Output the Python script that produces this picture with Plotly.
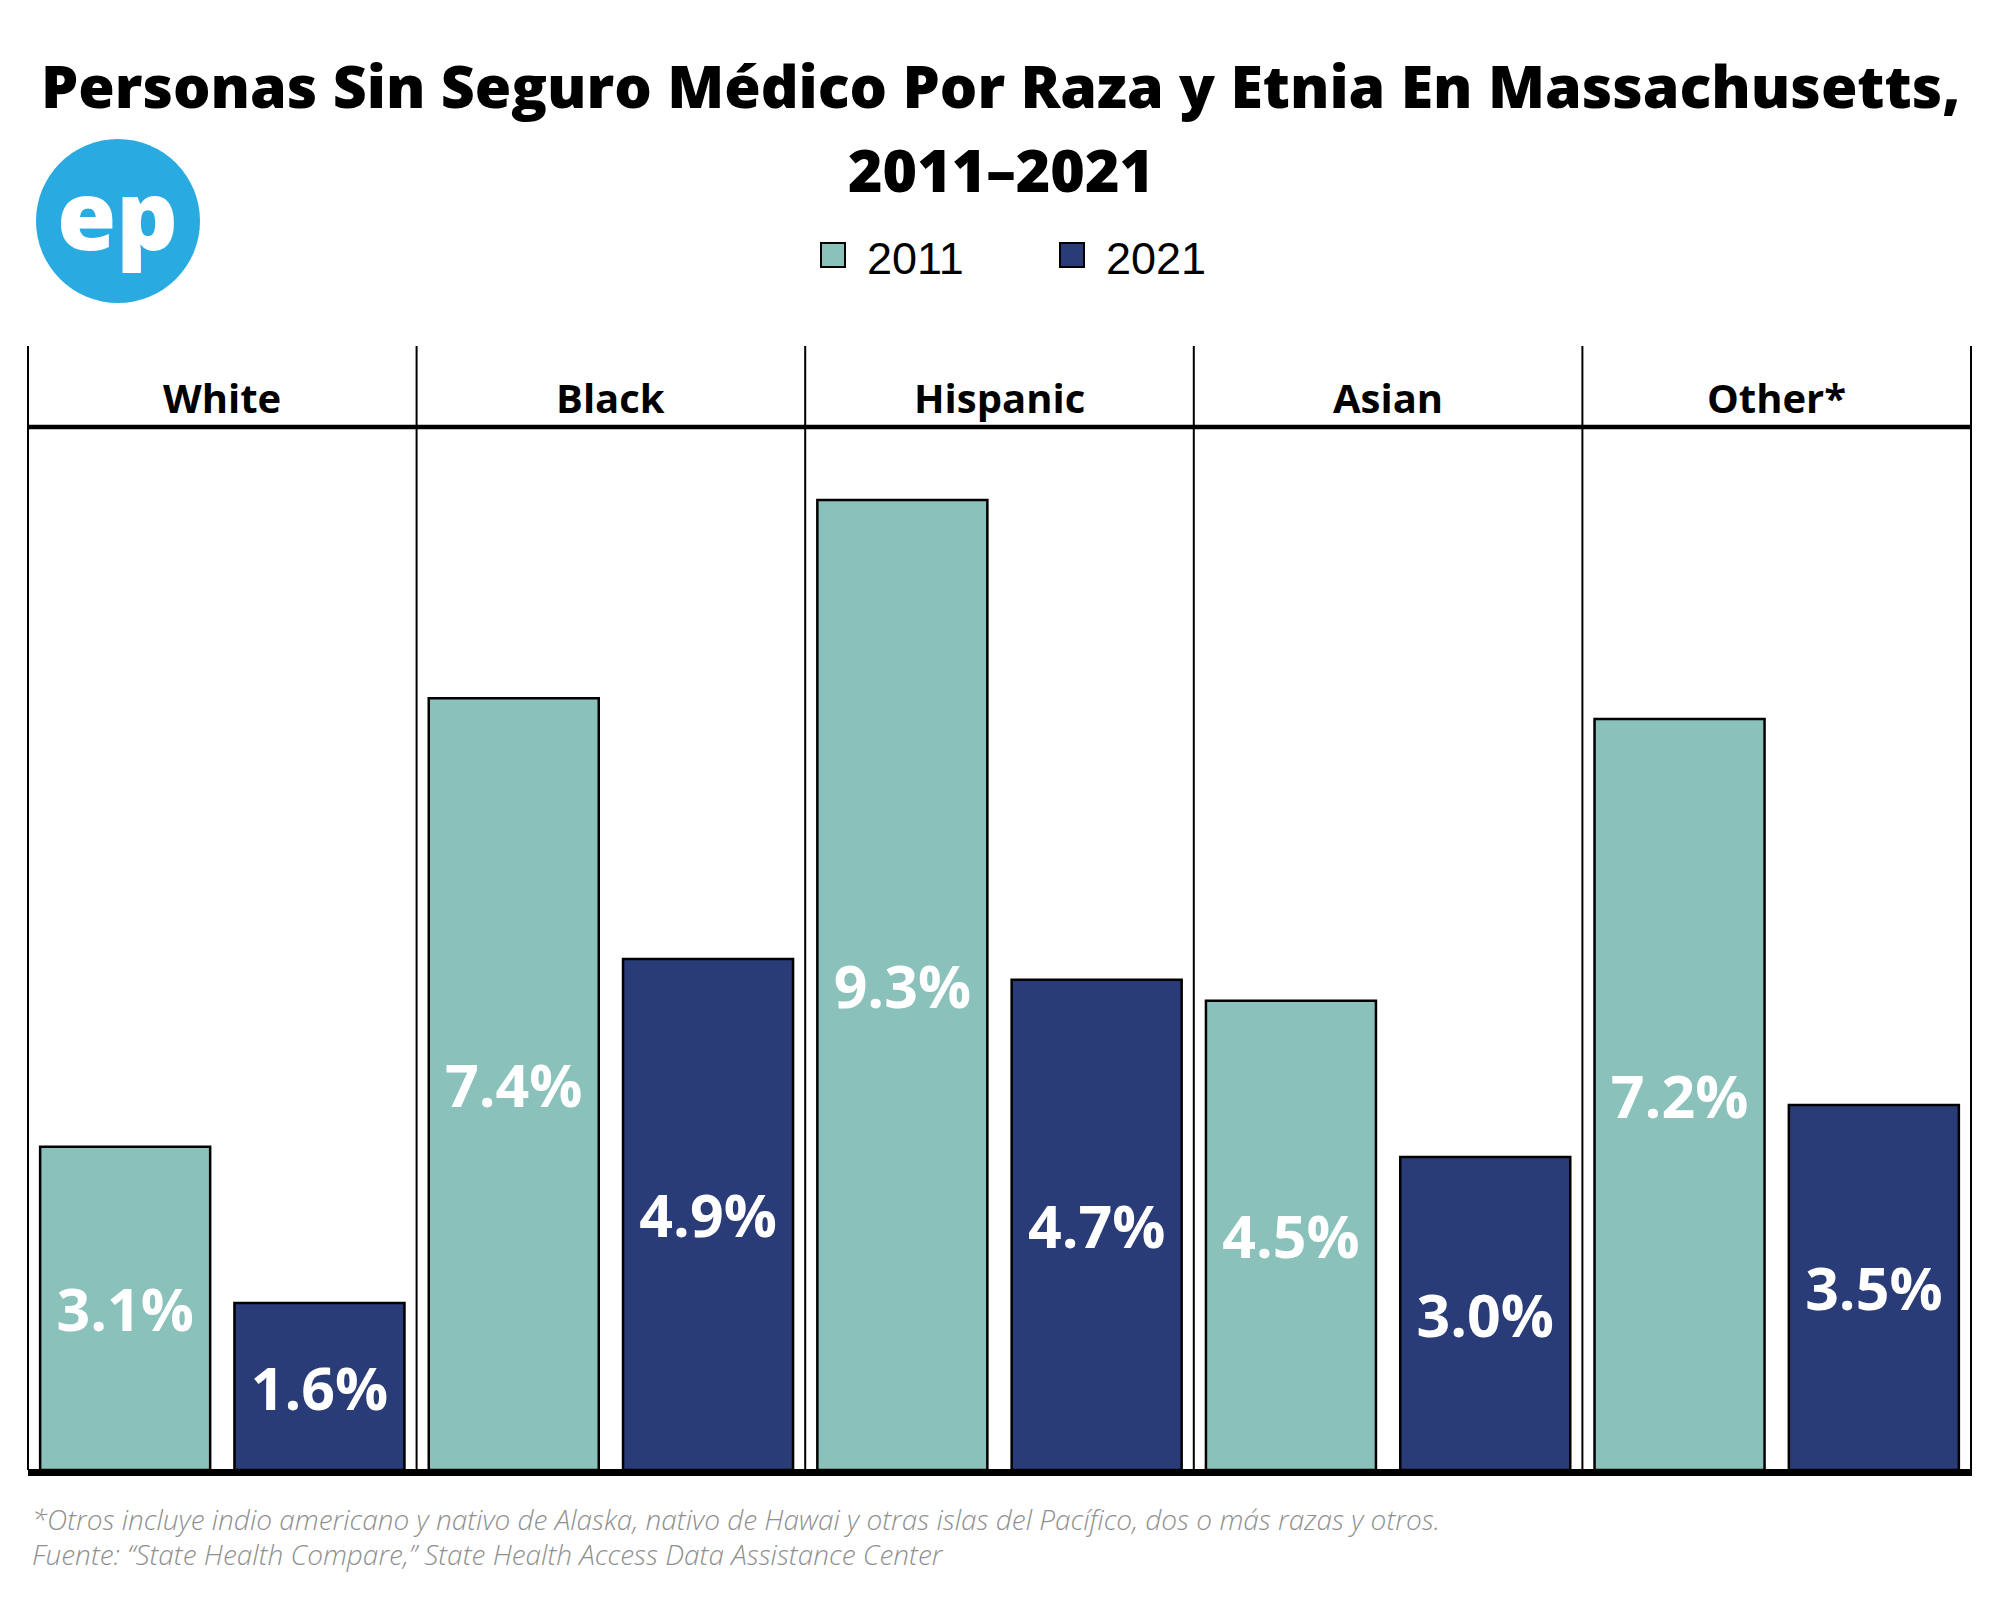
import plotly.graph_objects as go

# ---- data ----
categories = ["White", "Black", "Hispanic", "Asian", "Other*"]
years = ["2011", "2021"]
values_2011 = [3.1, 7.4, 9.3, 4.5, 7.2]
values_2021 = [1.6, 4.9, 4.7, 3.0, 3.5]

title_line1 = "Personas Sin Seguro Médico Por Raza y Etnia En Massachusetts,"
title_line2 = "2011–2021"
footnote1 = "*Otros incluye indio americano y nativo de Alaska, nativo de Hawai y otras islas del Pacífico, dos o más razas y otros."
footnote2 = "Fuente: “State Health Compare,” State Health Access Data Assistance Center"

colors = {"2011": "#8AC2BB", "2021": "#293C77"}

OFF = 8  # page body margin
W, H = 2000, 1600
L = 28 - OFF
T = 346 - OFF
PW = 1943
PH = 1124
R = W - L - PW
B = H - T - PH
Y0PIX = 1470  # screen row of y=0
UNIT = 104.3   # pixels per percentage point
YMAX = PH / UNIT


def px(x):
    return (x - OFF - L) / PW


def py(y):
    return (Y0PIX - y) / PH


fig = go.Figure()
for yr, vals in zip(years, [values_2011, values_2021]):
    fig.add_trace(go.Bar(
        x=categories, y=vals, name=yr,
        marker=dict(color=colors[yr], line=dict(color="black", width=2.5)),
        texttemplate="%{y:.1f}%", textposition="inside", insidetextanchor="middle",
        textangle=0, constraintext="none",
        textfont=dict(family="Open Sans", size=59, color="white", weight=700),
        showlegend=False, cliponaxis=False,
    ))

shapes = []
# panel dividers
for i in range(len(categories) + 1):
    shapes.append(dict(type="line", xref="paper", yref="paper", x0=i / 5, x1=i / 5,
                       y0=0, y1=1, line=dict(color="black", width=2)))
# header line
shapes.append(dict(type="line", xref="paper", yref="y", x0=0, x1=1, y0=10, y1=10,
                   line=dict(color="black", width=4.5)))
# baseline
shapes.append(dict(type="line", xref="paper", yref="paper", x0=0, x1=1.0005,
                   y0=py(1472.5), y1=py(1472.5), line=dict(color="black", width=7)))
# logo circle
shapes.append(dict(type="circle", xref="paper", yref="paper", xsizemode="pixel", ysizemode="pixel",
                   xanchor=px(118), yanchor=py(221), x0=-82, x1=82, y0=-82, y1=82,
                   fillcolor="#29ABE2", line=dict(width=0)))
# legend squares
for cx, yr in [(833, "2011"), (1072, "2021")]:
    shapes.append(dict(type="rect", xref="paper", yref="paper", xsizemode="pixel", ysizemode="pixel",
                       xanchor=px(cx), yanchor=py(255), x0=-12, x1=12, y0=-12, y1=12,
                       fillcolor=colors[yr], line=dict(color="black", width=2)))

annotations = []
annotations.append(dict(text=title_line1, x=px(1001), xref="paper", y=py(85), yref="paper",
                        xanchor="center", yanchor="middle", showarrow=False,
                        font=dict(family="Open Sans", size=59, color="black", weight=800)))
annotations.append(dict(text=title_line2, x=px(1001), xref="paper", y=py(169), yref="paper",
                        xanchor="center", yanchor="middle", showarrow=False,
                        font=dict(family="Open Sans", size=59, color="black", weight=800)))
annotations.append(dict(text="ep", x=px(117), xref="paper", y=py(213), yref="paper",
                        xanchor="center", yanchor="middle", showarrow=False,
                        font=dict(family="Open Sans", size=96, color="white", weight=800)))
for lx, yr in [(865, "2011"), (1104, "2021")]:
    annotations.append(dict(text=yr, x=px(lx), xref="paper", y=py(258), yref="paper",
                            xanchor="left", yanchor="middle", showarrow=False,
                            font=dict(family="Liberation Sans", size=45, color="black")))
for c in categories:
    annotations.append(dict(text=c, x=c, xref="x", y=py(398), yref="paper",
                            xanchor="center", yanchor="middle", showarrow=False,
                            font=dict(family="Open Sans", size=40, color="black", weight=700)))
annotations.append(dict(text=footnote1, x=px(30), xref="paper", y=py(1519), yref="paper",
                        xanchor="left", yanchor="middle", showarrow=False,
                        font=dict(family="Open Sans", size=28, color="#909090", style="italic",
                                  weight=300)))
annotations.append(dict(text=footnote2, x=px(30), xref="paper", y=py(1554), yref="paper",
                        xanchor="left", yanchor="middle", showarrow=False,
                        font=dict(family="Open Sans", size=28, color="#909090", style="italic",
                                  weight=300)))

fig.update_layout(
    width=W, height=H, autosize=False,
    margin=dict(l=L, r=R, t=T, b=B, pad=0),
    paper_bgcolor="white", plot_bgcolor="white",
    barmode="group", bargap=0.0, bargroupgap=0.125,
    xaxis=dict(type="category", showticklabels=False, showgrid=False, zeroline=False,
               showline=False, range=[-0.5, 4.5], fixedrange=True),
    yaxis=dict(range=[0, YMAX], showticklabels=False, showgrid=False, zeroline=False,
               showline=False, fixedrange=True),
    shapes=shapes, annotations=annotations,
    uniformtext=dict(mode=False),
)

fig.write_html("out.html")
